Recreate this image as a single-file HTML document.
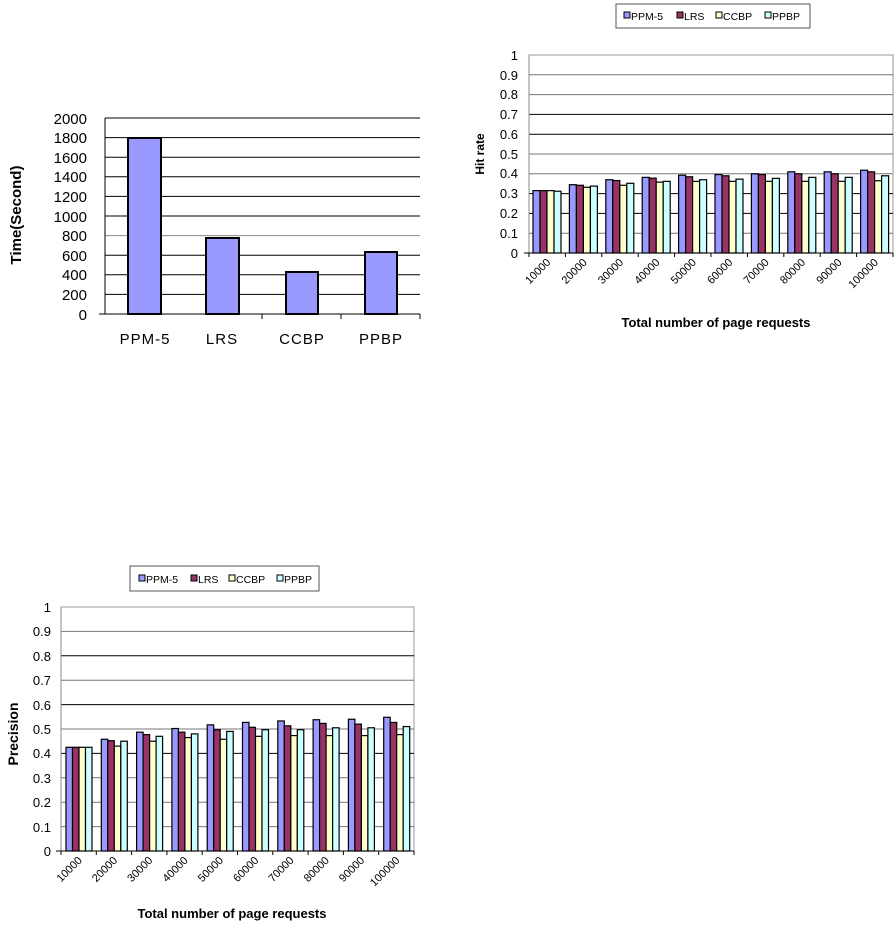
<!DOCTYPE html>
<html><head><meta charset="utf-8"><style>
body{margin:0;background:#fff;width:896px;height:928px;overflow:hidden}
svg{position:absolute;left:0;top:0}
text{font-family:"Liberation Sans",Arial,sans-serif;fill:#000}
</style></head><body>
<svg id="s" width="896" height="928" viewBox="0 0 896 928">
<!-- Chart 1 -->
<g id="c1grid"></g>
<line x1="105" y1="118" x2="105" y2="314" stroke="#000"/>
<line x1="99" y1="314" x2="420" y2="314" stroke="#000"/>
<line x1="262" y1="314" x2="262" y2="319" stroke="#000"/>
<line x1="341" y1="314" x2="341" y2="319" stroke="#000"/>
<line x1="420" y1="314" x2="420" y2="319" stroke="#000"/>
<rect x="128" y="138" width="33" height="176" fill="#9999ff" stroke="#000" stroke-width="2"/>
<rect x="206" y="238" width="33" height="76" fill="#9999ff" stroke="#000" stroke-width="2"/>
<rect x="286" y="272" width="32" height="42" fill="#9999ff" stroke="#000" stroke-width="2"/>
<rect x="365" y="252" width="32" height="62" fill="#9999ff" stroke="#000" stroke-width="2"/>
<g font-size="15" text-anchor="end">
<text x="87" y="124">2000</text><text x="87" y="143">1800</text><text x="87" y="163">1600</text><text x="87" y="182">1400</text><text x="87" y="202">1200</text><text x="87" y="222">1000</text><text x="87" y="241">800</text><text x="87" y="261">600</text><text x="87" y="280">400</text><text x="87" y="300">200</text><text x="87" y="320">0</text>
</g>
<g font-size="15" text-anchor="middle" letter-spacing="1">
<text x="145" y="344">PPM-5</text><text x="222" y="344">LRS</text><text x="302" y="344">CCBP</text><text x="381" y="344">PPBP</text>
</g>
<text transform="translate(21,215) rotate(-90)" font-size="15" font-weight="bold" text-anchor="middle">Time(Second)</text>

<!-- Chart 2 -->
<rect x="616" y="4" width="194" height="24" fill="#fff" stroke="#555"/>
<g font-size="10.5" fill="#000">
<rect x="624" y="12" width="6" height="6" fill="#9999ff" stroke="#000"/><text x="631" y="20">PPM-5</text>
<rect x="677" y="12" width="6" height="6" fill="#993366" stroke="#000"/><text x="684" y="20">LRS</text>
<rect x="716" y="12" width="6" height="6" fill="#ffffcc" stroke="#000"/><text x="723" y="20">CCBP</text>
<rect x="765" y="12" width="6" height="6" fill="#ccffff" stroke="#000"/><text x="772" y="20">PPBP</text>
</g>
<g id="c2"></g>
<g font-size="13" text-anchor="end">
<text x="518" y="60">1</text><text x="518" y="80">0.9</text><text x="518" y="99">0.8</text><text x="518" y="119">0.7</text><text x="518" y="139">0.6</text><text x="518" y="159">0.5</text><text x="518" y="178">0.4</text><text x="518" y="198">0.3</text><text x="518" y="218">0.2</text><text x="518" y="238">0.1</text><text x="518" y="258">0</text>
</g>
<text transform="translate(484,154) rotate(-90)" font-size="12" font-weight="bold" text-anchor="middle">Hit rate</text>
<g id="c2x" font-size="11" text-anchor="end"></g>
<text x="716" y="327" font-size="13" font-weight="bold" text-anchor="middle">Total number of page requests</text>

<!-- Chart 3 -->
<rect x="130" y="566" width="189" height="25" fill="#fff" stroke="#555"/>
<g font-size="10.5">
<rect x="139" y="575" width="6" height="6" fill="#9999ff" stroke="#000"/><text x="146" y="583">PPM-5</text>
<rect x="191" y="575" width="6" height="6" fill="#993366" stroke="#000"/><text x="198" y="583">LRS</text>
<rect x="229" y="575" width="6" height="6" fill="#ffffcc" stroke="#000"/><text x="236" y="583">CCBP</text>
<rect x="277" y="575" width="6" height="6" fill="#ccffff" stroke="#000"/><text x="284" y="583">PPBP</text>
</g>
<g id="c3"></g>
<g font-size="13" text-anchor="end">
<text x="51" y="612">1</text><text x="51" y="636">0.9</text><text x="51" y="661">0.8</text><text x="51" y="685">0.7</text><text x="51" y="710">0.6</text><text x="51" y="734">0.5</text><text x="51" y="758">0.4</text><text x="51" y="783">0.3</text><text x="51" y="807">0.2</text><text x="51" y="832">0.1</text><text x="51" y="856">0</text>
</g>
<text transform="translate(18,734) rotate(-90)" font-size="14" font-weight="bold" text-anchor="middle">Precision</text>
<g id="c3x" font-size="11" text-anchor="end"></g>
<text x="232" y="918" font-size="13" font-weight="bold" text-anchor="middle">Total number of page requests</text>
</svg>
<script>
var NS="http://www.w3.org/2000/svg";
function el(p,t,a){var e=document.createElementNS(NS,t);for(var k in a)e.setAttribute(k,a[k]);p.appendChild(e);return e;}
var g1=document.getElementById("c1grid");
for(var i=1;i<=10;i++){var y=314-i*19.6;el(g1,"line",{x1:105,x2:420,y1:y,y2:y,stroke:(i==4?"#888":"#000")});}
var cols=["#9999ff","#993366","#ffffcc","#ccffff"];
function chart(id,L,R,T,B,data,off,bw,dark){
 var g=document.getElementById(id);
 el(g,"rect",{x:L,y:T,width:R-L,height:B-T,fill:"#fff",stroke:"#999"});
 for(var i=1;i<10;i++){var y=B-i*(B-T)/10;el(g,"line",{x1:L,x2:R,y1:y,y2:y,stroke:dark.indexOf(i)>=0?"#000":"#777"});}
 el(g,"line",{x1:L,x2:L,y1:T,y2:B,stroke:"#888"});
 var cw=(R-L)/10;
 for(var c=0;c<10;c++){
  for(var s=0;s<4;s++){var v=data[c][s];var h=v*(B-T);
   el(g,"rect",{x:L+c*cw+off+s*bw,y:B-h,width:bw,height:h,fill:cols[s],stroke:"#000","stroke-width":1.2});}
 }
 el(g,"line",{x1:L-5,x2:R,y1:B,y2:B,stroke:"#000"});
 for(var c=0;c<=10;c++){el(g,"line",{x1:L+c*cw,x2:L+c*cw,y1:B,y2:B+4,stroke:"#000"});}
 var gx=document.getElementById(id+"x");var lab=["10000","20000","30000","40000","50000","60000","70000","80000","90000","100000"];
 for(var c=0;c<10;c++){var x=L+c*cw+cw/2+4,y=B+10;var t=el(gx,"text",{transform:"translate("+x+","+y+") rotate(-45)"});t.textContent=lab[c];}
}
chart("c2",529,893,55,253,[[.315,.315,.315,.312],[.345,.342,.332,.338],[.37,.366,.342,.352],[.382,.378,.358,.362],[.393,.385,.362,.37],[.396,.39,.362,.373],[.4,.396,.362,.377],[.41,.4,.362,.382],[.41,.4,.362,.382],[.418,.41,.365,.39]],4,7,[2,3,6,7]);
chart("c3",61,414,607,851,[[.425,.425,.425,.425],[.458,.452,.43,.45],[.487,.477,.45,.47],[.502,.487,.465,.48],[.517,.497,.458,.49],[.527,.507,.47,.497],[.533,.513,.473,.497],[.538,.523,.473,.505],[.54,.52,.473,.505],[.548,.527,.477,.51]],5,6.5,[4,6,8]);
</script>
</body></html>
